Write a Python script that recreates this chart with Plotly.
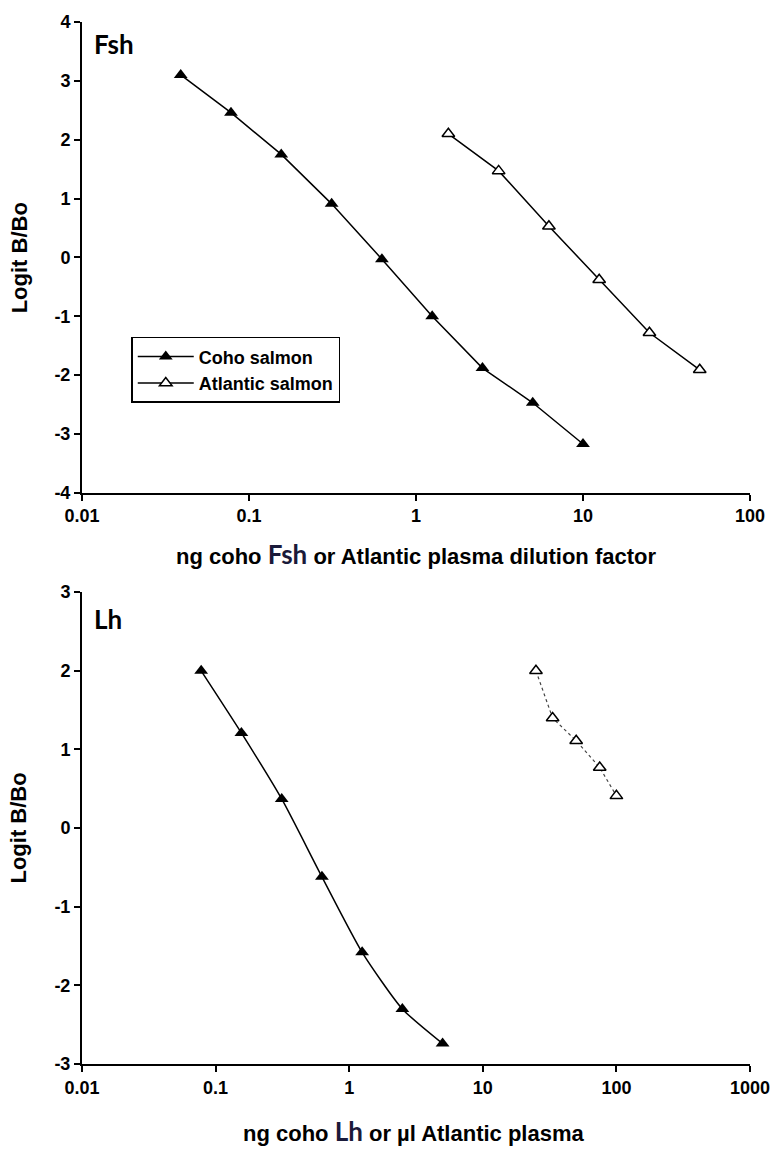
import plotly.graph_objects as go

# ---- Fsh assay (top panel) ----
fsh_coho_x = [0.039, 0.078, 0.156, 0.3125, 0.625, 1.25, 2.5, 5, 10]
fsh_coho_y = [3.10, 2.46, 1.75, 0.91, -0.03, -1.00, -1.88, -2.47, -3.17]
fsh_atl_x = [1.5625, 3.125, 6.25, 12.5, 25, 50]
fsh_atl_y = [2.10, 1.47, 0.53, -0.38, -1.28, -1.91]

# ---- Lh assay (bottom panel) ----
lh_coho_x = [0.078, 0.156, 0.3125, 0.625, 1.25, 2.5, 5]
lh_coho_y = [2.00, 1.21, 0.37, -0.62, -1.58, -2.30, -2.74]
lh_atl_x = [25, 33.3, 50, 75, 100]
lh_atl_y = [2.00, 1.40, 1.11, 0.77, 0.41]

# ---- tick labels ----
top_xticks = [0.01, 0.1, 1, 10, 100]
top_xlabels = ["0.01", "0.1", "1", "10", "100"]
bot_xticks = [0.01, 0.1, 1, 10, 100, 1000]
bot_xlabels = ["0.01", "0.1", "1", "10", "100", "1000"]
top_yticks = [-4, -3, -2, -1, 0, 1, 2, 3, 4]
top_ylabels = ["-4", "-3", "-2", "-1", "0", "1", "2", "3", "4"]
bot_yticks = [-3, -2, -1, 0, 1, 2, 3]
bot_ylabels = ["-3", "-2", "-1", "0", "1", "2", "3"]

series_names = ["Coho salmon", "Atlantic salmon"]

W, H = 782, 1150
ML, MR, MT, MB = 82, 22, 15, 86
plot_h = H - MT - MB


def py(px):
    """pixel row -> paper y"""
    return (H - MB - px) / plot_h


def px_(x):
    """pixel column -> paper x"""
    return (x - ML) / (W - ML - MR)


BASE = "Liberation Sans, Arial, sans-serif"
CAL = "Lato, Carlito, Calibri, sans-serif"

fig = go.Figure()

fig.add_trace(go.Scatter(
    x=fsh_coho_x, y=fsh_coho_y, name=series_names[0], xaxis="x", yaxis="y",
    mode="lines+markers",
    line=dict(color="black", width=1.5),
    marker=dict(symbol="triangle-up", size=12, color="black"),
))
fig.add_trace(go.Scatter(
    x=fsh_atl_x, y=fsh_atl_y, name=series_names[1], xaxis="x", yaxis="y",
    mode="lines+markers",
    line=dict(color="black", width=1.5),
    marker=dict(symbol="triangle-up", size=11, color="white",
                line=dict(color="black", width=1.5)),
))
fig.add_trace(go.Scatter(
    x=lh_coho_x, y=lh_coho_y, name=series_names[0], xaxis="x2", yaxis="y2",
    mode="lines+markers", showlegend=False,
    line=dict(color="black", width=1.5, shape="spline", smoothing=0.6),
    marker=dict(symbol="triangle-up", size=12, color="black"),
))
fig.add_trace(go.Scatter(
    x=lh_atl_x, y=lh_atl_y, name=series_names[1], xaxis="x2", yaxis="y2",
    mode="lines+markers", showlegend=False,
    line=dict(color="#444444", width=1.2, dash="dot"),
    marker=dict(symbol="triangle-up", size=11, color="white",
                line=dict(color="black", width=1.5)),
))

axis_common = dict(
    showline=True, linecolor="black", linewidth=2, mirror=False,
    showgrid=False, zeroline=False,
    ticks="outside", ticklen=6, tickwidth=2, tickcolor="black",
    tickfont=dict(family=BASE, size=18, color="black", weight="bold"),
)

top_dom = [py(489), 1.0]
bot_dom = [0.0, py(589)]

fig.update_layout(
    width=W, height=H,
    margin=dict(l=ML, r=MR, t=MT, b=MB),
    paper_bgcolor="white", plot_bgcolor="white",
    font=dict(family=BASE, color="black"),
    xaxis=dict(type="log", range=[-2, 2], domain=[0, 1], anchor="y",
               tickvals=top_xticks, ticktext=top_xlabels, **axis_common),
    yaxis=dict(range=[-4, 4], domain=top_dom, anchor="x",
               tickvals=top_yticks, ticktext=top_ylabels, **axis_common),
    xaxis2=dict(type="log", range=[-2, 3], domain=[0, 1], anchor="y2",
                tickvals=bot_xticks, ticktext=bot_xlabels, **axis_common),
    yaxis2=dict(range=[-3, 3], domain=bot_dom, anchor="x2",
                tickvals=bot_yticks, ticktext=bot_ylabels, **axis_common),
    showlegend=True,
    legend=dict(
        x=px_(132), y=py(332), xanchor="left", yanchor="top",
        bgcolor="white", bordercolor="black", borderwidth=1.5,
        font=dict(family=BASE, size=18, color="black", weight="bold"),
        itemwidth=56, entrywidth=216, entrywidthmode="pixels",
        tracegroupgap=0,
    ),
)

title_font = dict(family=BASE, size=22, color="black", weight="bold")
span = '<span style="font-family:Lato, Carlito, sans-serif;font-size:26px;fill:#1a1a3a">{}</span>'

annotations = [
    dict(text="ng coho " + span.format("Fsh") + " or Atlantic plasma dilution factor",
         x=0.5, y=py(551), xref="paper", yref="paper",
         xanchor="center", yanchor="middle", showarrow=False, font=title_font),
    dict(text="ng coho " + span.format("Lh") + " or \u00b5l Atlantic plasma",
         x=px_(419), y=py(1131), xref="paper", yref="paper",
         xanchor="center", yanchor="middle", showarrow=False, font=title_font),
    dict(text="Logit B/Bo", textangle=-90,
         x=px_(18), y=py(252), xref="paper", yref="paper",
         xanchor="center", yanchor="middle", showarrow=False, font=title_font),
    dict(text="Logit B/Bo", textangle=-90,
         x=px_(18), y=py(826), xref="paper", yref="paper",
         xanchor="center", yanchor="middle", showarrow=False, font=title_font),
    dict(text="Fsh", x=px_(92), y=py(37), xref="paper", yref="paper",
         xanchor="left", yanchor="middle", showarrow=False,
         font=dict(family=CAL, size=26, color="black", weight="bold")),
    dict(text="Lh", x=px_(92), y=py(616), xref="paper", yref="paper",
         xanchor="left", yanchor="middle", showarrow=False,
         font=dict(family=CAL, size=26, color="black", weight="bold")),
]
fig.update_layout(annotations=annotations)

fig.write_html("out.html")
